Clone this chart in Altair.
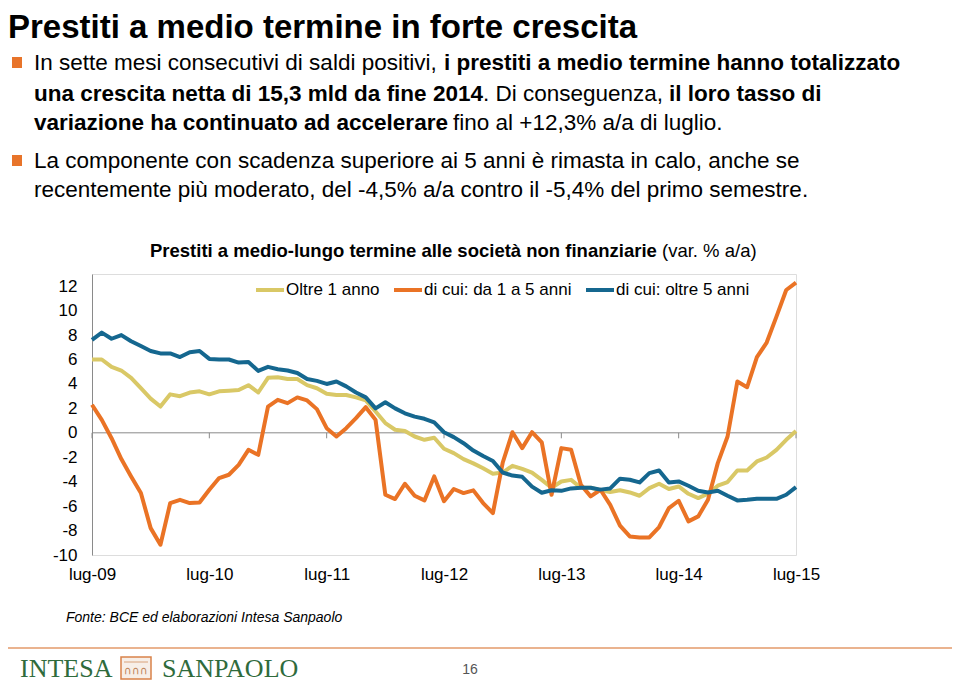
import altair as alt
import pandas as pd

# ---------------- data ----------------
mesi_it = ["gen", "feb", "mar", "apr", "mag", "giu", "lug", "ago", "set", "ott", "nov", "dic"]
months = []
y, m = 2009, 7
for _ in range(73):
    months.append(f"{mesi_it[m-1]}-{str(y)[2:]}")
    m += 1
    if m > 12:
        m, y = 1, y + 1

tick_labels = ["lug-09", "lug-10", "lug-11", "lug-12", "lug-13", "lug-14", "lug-15"]
y_ticks = [-10, -8, -6, -4, -2, 0, 2, 4, 6, 8, 10, 12]

series_names = ["Oltre 1 anno", "di cui: da 1 a 5 anni", "di cui: oltre 5 anni"]
series_colors = ["#d9c866", "#ea7325", "#15678f"]

oltre1 = [6.0, 6.0, 5.4, 5.1, 4.5, 3.65, 2.8, 2.15, 3.15, 3.0, 3.3, 3.4, 3.15, 3.4, 3.45, 3.5,
          3.9, 3.3, 4.5, 4.55, 4.4, 4.4, 3.9, 3.65, 3.2, 3.1, 3.1, 2.9, 2.65, 1.75, 0.8, 0.25,
          0.15, -0.3, -0.57, -0.4, -1.3, -1.66, -2.15, -2.5, -2.9, -3.35, -3.25, -2.7, -2.95,
          -3.25, -3.85, -4.5, -3.98, -3.85, -4.5, -4.5, -4.7, -4.85, -4.7, -4.88, -5.15, -4.53,
          -4.17, -4.6, -4.39, -4.99, -5.34, -4.99, -4.33, -4.03, -3.08, -3.08, -2.34, -2.02,
          -1.39, -0.57, 0.14]
da1a5 = [2.3, 1.06, -0.44, -2.15, -3.57, -4.93, -7.8, -9.16, -5.75, -5.48, -5.75, -5.7, -4.66,
         -3.7, -3.43, -2.62, -1.39, -1.8, 2.15, 2.7, 2.43, 2.9, 2.65, 1.94, 0.38, -0.3, 0.38,
         1.2, 2.1, 1.06, -5.07, -5.42, -4.17, -5.15, -5.53, -3.57, -5.6, -4.6, -4.93, -4.71,
         -5.75, -6.57, -2.45, 0.05, -1.25, 0.05, -0.79, -5.07, -1.25, -1.39, -4.25, -5.2, -4.66,
         -5.9, -7.6, -8.48, -8.56, -8.56, -7.71, -6.16, -5.56, -7.25, -6.84, -5.48, -2.48, -0.3,
         4.2, 3.73, 6.19, 7.39, 9.51, 11.69, 12.29]
oltre5 = [7.6, 8.2, 7.7, 8.0, 7.5, 7.1, 6.7, 6.5, 6.5, 6.2, 6.6, 6.7, 6.05, 6.0, 6.0, 5.75, 5.8,
          5.07, 5.4, 5.2, 5.1, 4.9, 4.4, 4.25, 4.0, 4.2, 3.8, 3.3, 2.9, 2.0, 2.5, 2.0, 1.6, 1.33,
          1.15, 0.85, 0.05, -0.35, -0.85, -1.45, -1.9, -2.3, -3.25, -3.5, -3.6, -4.4, -4.9, -4.7,
          -4.75, -4.55, -4.5, -4.5, -4.65, -4.55, -3.75, -3.84, -4.06, -3.3, -3.08, -4.06, -3.98,
          -4.33, -4.74, -4.88, -4.74, -5.15, -5.53, -5.48, -5.4, -5.4, -5.4, -5.07, -4.44]

rows = []
for name, vals in zip(series_names, [oltre1, da1a5, oltre5]):
    for i, (mo, v) in enumerate(zip(months, vals)):
        rows.append({"mese": mo, "valore": v, "serie": name, "ord": series_names.index(name)})
df = pd.DataFrame(rows)

FONT = "Liberation Sans"
BLACK = "#000000"
GRAY = "#8a8a8a"
ORANGE = "#e8742a"
GREEN = "#2f6b3c"

xscale = alt.Scale(type="point", domain=months, padding=0)
yscale = alt.Scale(domain=[-10, 13], nice=False, zero=False)

xaxis = alt.Axis(values=tick_labels, title=None, domain=False, ticks=False, tickSize=0,
                 labelAngle=0, labelFontSize=17, labelFont=FONT, labelColor=BLACK,
                 labelPadding=11, grid=False, labelBaseline="top", labelOverlap=False)
yaxis = alt.Axis(values=y_ticks, title=None, grid=False, ticks=False, tickSize=0,
                 domain=True, domainColor=GRAY, domainWidth=1,
                 labelOverlap=False, labelExpr="datum.value + ''",
                 labelFontSize=17, labelFont=FONT, labelColor=BLACK, labelPadding=15)

zero_line = alt.Chart(pd.DataFrame({"v": [0]})).mark_rule(color=GRAY, strokeWidth=1).encode(
    y=alt.Y("v:Q", scale=yscale, axis=yaxis)
)

ticks = alt.Chart(pd.DataFrame({"mese": tick_labels, "y0": 0.0, "y1": -0.45})).mark_rule(
    color=GRAY, strokeWidth=1
).encode(
    x=alt.X("mese:O", scale=xscale, sort=None, axis=xaxis),
    y=alt.Y("y0:Q", scale=yscale, axis=yaxis),
    y2="y1:Q",
)

lines = alt.Chart(df).mark_line(strokeWidth=4, strokeJoin="round").encode(
    x=alt.X("mese:O", scale=xscale, sort=None, axis=xaxis),
    y=alt.Y("valore:Q", scale=yscale, axis=yaxis),
    color=alt.Color("serie:N", scale=alt.Scale(domain=series_names, range=series_colors),
                    sort=series_names,
                    legend=alt.Legend(orient="none", legendX=162, legendY=0, direction="horizontal",
                                      title=None, symbolType="stroke", symbolSize=784,
                                      symbolStrokeWidth=4, labelFontSize=17, labelFont=FONT,
                                      labelColor=BLACK, labelOffset=0, columnPadding=6,
                                      padding=0, symbolOpacity=1)),
    order=alt.Order("ord:Q"),
    detail="serie:N",
)

dummy = pd.DataFrame({"a": [0]})


def txt(s, x, y, size, weight="normal", style="normal", align="left", baseline="middle",
        color=BLACK, font=FONT):
    return alt.Chart(dummy).mark_text(
        text=s, align=align, baseline=baseline, fontSize=size, fontWeight=weight,
        fontStyle=style, color=color, font=font
    ).encode(x=alt.value(x), y=alt.value(y))


def box(x1, x2, y1, y2, fill, stroke=None, sw=0):
    kw = dict(fill=fill)
    if stroke:
        kw.update(stroke=stroke, strokeWidth=sw)
    return alt.Chart(dummy).mark_rect(**kw).encode(
        x=alt.value(x1), x2=alt.value(x2), y=alt.value(y1), y2=alt.value(y2))


B = 22.5
annotations = [
    txt("Prestiti a medio termine in forte crescita", -84, -236, 33, weight="bold",
        baseline="alphabetic"),
    box(-80, -70, -217, -206, ORANGE),
    txt("In sette mesi consecutivi di saldi positivi,", -58, -211, B),
    txt("i prestiti a medio termine hanno totalizzato", 352, -211, B, weight="bold"),
    txt("una crescita netta di 15,3 mld da fine 2014", -58, -180, B, weight="bold"),
    txt(". Di conseguenza,", 391, -180, B),
    txt("il loro tasso di", 577, -180, B, weight="bold"),
    txt("variazione ha continuato ad accelerare", -58, -151, B, weight="bold"),
    txt("fino al +12,3% a/a di luglio.", 361, -151, B),
    box(-80, -70, -119, -108, ORANGE),
    txt("La componente con scadenza superiore ai 5 anni è rimasta in calo, anche se",
        -58, -113, B),
    txt("recentemente più moderato, del -4,5% a/a contro il -5,4% del primo semestre.",
        -58, -84, B),
    txt("Prestiti a medio-lungo termine alle società non finanziarie", 58, -23, 18.5,
        weight="bold"),
    txt("(var. % a/a)", 570, -23, 18.5),
    txt("Fonte: BCE ed elaborazioni Intesa Sanpaolo", -26, 344, 14, style="italic"),
    alt.Chart(dummy).mark_rule(color="#e39a6a", strokeWidth=1.5).encode(
        x=alt.value(-84), x2=alt.value(866), y=alt.value(374)),
    txt("INTESA", -72, 403, 26, baseline="alphabetic", color=GREEN, font="Liberation Serif"),
    box(29, 59, 383, 405, "#f7efe8", stroke="#d9824a", sw=1.5),
    alt.Chart(dummy).mark_rule(color="#d9a27a", strokeWidth=1).encode(
        x=alt.value(32), x2=alt.value(56), y=alt.value(388)),
    txt("∩∩∩", 44, 397, 11, align="center", color="#c0845a", font="DejaVu Sans"),
    txt("SANPAOLO", 70, 403, 26, baseline="alphabetic", color=GREEN, font="Liberation Serif"),
    txt("16", 378, 396, 14, align="center", color="#555555"),
]

chart = alt.layer(zero_line, ticks, lines, *annotations).properties(
    width=704, height=281,
    padding={"left": 84, "top": 266, "right": 156, "bottom": 131},
    autosize=alt.AutoSizeParams(type="none"),
    background="white",
).configure_view(strokeWidth=0, stroke="transparent").configure(font=FONT)

chart.save("out.html", embed_options={"renderer": "svg", "actions": False})
